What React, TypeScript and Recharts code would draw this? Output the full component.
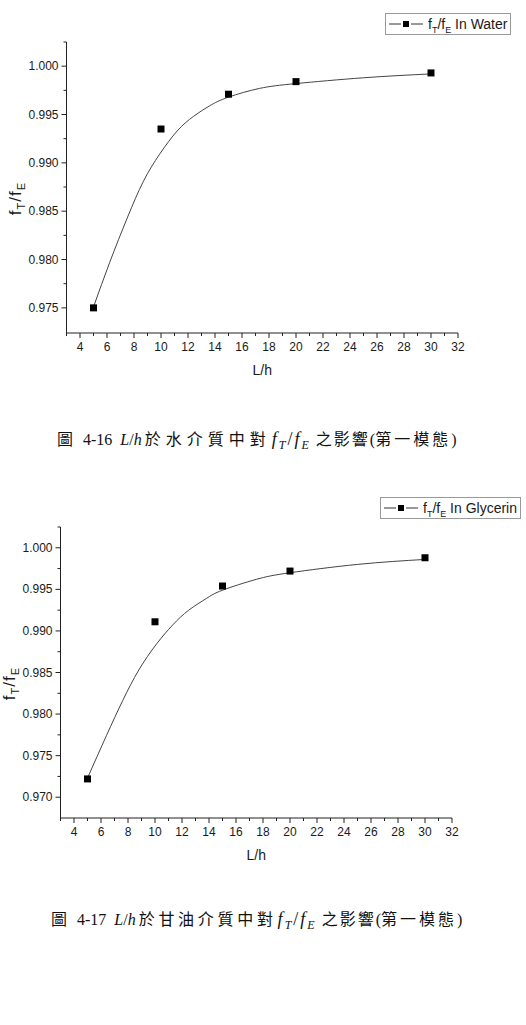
import React from 'react'
import { ComposedChart, Line, Scatter, XAxis, YAxis } from 'recharts'

// L/h values (x axis) and measured frequency ratios
const xTicks = [3, 4, 5, 6, 7, 8, 9, 10, 11, 12, 13, 14, 15, 16, 17, 18, 19, 20, 21, 22, 23, 24, 25, 26, 27, 28, 29, 30, 31, 32]

const waterX = [5, 10, 15, 20, 30]
const waterY = [0.975, 0.9935, 0.9971, 0.9984, 0.9993]
const waterFitX = [5, 6.2, 7.5, 8.7, 9.9, 11.2, 12.4, 13.6, 15, 17.3, 20, 25, 30]
const waterFitY = [0.9751, 0.9797, 0.9843, 0.9881, 0.9909, 0.9933, 0.9948, 0.9959, 0.9968, 0.9977, 0.9982, 0.9988, 0.9992]
const waterYTicks = [0.975, 0.9775, 0.98, 0.9825, 0.985, 0.9875, 0.99, 0.9925, 0.995, 0.9975, 1.0, 1.0025]

const glycerinX = [5, 10, 15, 20, 30]
const glycerinY = [0.9722, 0.9911, 0.9954, 0.9972, 0.9988]
const glycerinFitX = [5, 6.4, 7.6, 8.8, 10.1, 11.3, 12.5, 13.8, 15, 17.5, 20, 25, 30]
const glycerinFitY = [0.9723, 0.9774, 0.9816, 0.9853, 0.9884, 0.9907, 0.9925, 0.9939, 0.9949, 0.9962, 0.997, 0.998, 0.9986]
const glycerinYTicks = [0.97, 0.9725, 0.975, 0.9775, 0.98, 0.9825, 0.985, 0.9875, 0.99, 0.9925, 0.995, 0.9975, 1.0, 1.0025]

const axisColor = '#222'
const textColor = '#1a1a1a'
const sans = '"Liberation Sans", Arial, sans-serif'
const serif = '"Liberation Serif", "Times New Roman", serif'
const cjk = '"Noto Sans CJK TC", "Noto Sans CJK SC", sans-serif'

const toPoints = (xs: number[], ys: number[]) => xs.map((x, i) => ({ x, y: ys[i] }))

const isMajorY = (v: number) => Math.abs(Math.round(v * 200) - v * 200) < 1e-6

function XTick({ x, y, payload }: any) {
  const major = payload.value % 2 === 0
  return (
    <g>
      <line x1={x} x2={x} y1={y} y2={y + (major ? 5 : 3)} stroke={axisColor} />
      {major && (
        <text x={x} y={y + 18} textAnchor="middle" fontSize={12} fontFamily={sans} fill={textColor}>
          {payload.value}
        </text>
      )}
    </g>
  )
}

function YTick({ x, y, payload }: any) {
  const major = isMajorY(payload.value)
  return (
    <g>
      <line x1={x} x2={x - (major ? 5 : 3)} y1={y} y2={y} stroke={axisColor} />
      {major && (
        <text x={x - 8} y={y + 4} textAnchor="end" fontSize={12} fontFamily={sans} fill={textColor}>
          {payload.value.toFixed(3)}
        </text>
      )}
    </g>
  )
}

const squareShape = (props: any) => (
  <rect x={props.cx - 3.5} y={props.cy - 3.5} width={7} height={7} fill="#000" />
)

const xLabel = (props: any) => {
  const vb = props.viewBox
  return (
    <text x={vb.x + vb.width / 2} y={vb.y + 42} textAnchor="middle" fontSize={14} fontFamily={sans} fill={textColor}>
      L/h
    </text>
  )
}

const yLabel = (props: any) => {
  const vb = props.viewBox
  const cx = vb.x + vb.width - 52
  const cy = vb.y + vb.height / 2 + 11
  return (
    <text
      transform={`translate(${cx},${cy}) rotate(-90)`}
      x={0}
      y={6}
      textAnchor="middle"
      fontSize={17}
      letterSpacing={1}
      fontFamily={sans}
      fill={textColor}
    >
      f<tspan fontSize={11} dy={4}>T</tspan>
      <tspan dy={-4}>/f</tspan>
      <tspan fontSize={11} dy={4}>E</tspan>
    </text>
  )
}

function Legend({ left, top, name }: { left: number; top: number; name: string }) {
  return (
    <div
      style={{
        position: 'absolute',
        left,
        top,
        height: 20,
        border: '1px solid #999',
        padding: '0 3px 0 3px',
        display: 'flex',
        alignItems: 'center',
        fontFamily: sans,
        fontSize: 14,
        color: textColor,
        background: '#fff',
        whiteSpace: 'nowrap',
      }}
    >
      <svg width={36} height={10} style={{ marginRight: 3 }}>
        <line x1={0} x2={12} y1={5} y2={5} stroke="#333" />
        <rect x={14} y={2} width={6} height={6} fill="#000" />
        <line x1={22} x2={34} y1={5} y2={5} stroke="#333" />
      </svg>
      <span>
        f<span style={{ fontSize: 9, position: 'relative', top: 4 }}>T</span>/f
        <span style={{ fontSize: 9, position: 'relative', top: 4 }}>E</span> {name}
      </span>
    </div>
  )
}

function Caption({
  left,
  top,
  num,
  medium,
  spacing,
}: {
  left: number
  top: number
  num: string
  medium: string
  spacing: number
}) {
  const sub = { fontSize: 12, position: 'relative' as const, top: 4, fontStyle: 'italic' }
  return (
    <div
      style={{
        position: 'absolute',
        left,
        top,
        fontFamily: serif,
        fontSize: 16,
        color: '#111',
        whiteSpace: 'nowrap',
      }}
    >
      <span style={{ fontFamily: cjk }}>圖</span>
      <span style={{ marginLeft: 10 }}>{num}</span>
      <i style={{ marginLeft: 8 }}>L</i>/<i>h</i>
      <span style={{ fontFamily: cjk, letterSpacing: spacing, marginLeft: 3 }}>{medium}</span>
      <span style={{ fontSize: 18, letterSpacing: 2, marginLeft: 1, marginRight: 3 }}>
        <i>f</i>
        <span style={sub}>T</span>/<i>f</i>
        <span style={sub}>E</span>
      </span>
      <span style={{ fontFamily: cjk, letterSpacing: 2, marginLeft: 2 }}>之影響</span>(
      <span style={{ fontFamily: cjk, letterSpacing: 3 }}>第一模態</span>)
    </div>
  )
}

function Panel({
  top,
  left,
  right,
  yDomain,
  yTicks,
  points,
  fit,
}: {
  top: number
  left: number
  right: number
  yDomain: [number, number]
  yTicks: number[]
  points: { x: number; y: number }[]
  fit: { x: number; y: number }[]
}) {
  return (
    <div style={{ position: 'absolute', left: 0, top }}>
      <ComposedChart width={526} height={400} margin={{ top: 42, right, left, bottom: 17 }}>
        <XAxis
          type="number"
          dataKey="x"
          domain={[3, 32]}
          ticks={xTicks}
          interval={0}
          allowDataOverflow
          height={50}
          tickSize={0}
          tickMargin={0}
          tickLine={false}
          tick={<XTick />}
          stroke={axisColor}
          label={xLabel}
        />
        <YAxis
          type="number"
          dataKey="y"
          domain={yDomain}
          ticks={yTicks}
          interval={0}
          allowDataOverflow
          width={56}
          tickSize={0}
          tickMargin={0}
          tickLine={false}
          tick={<YTick />}
          stroke={axisColor}
          label={yLabel}
        />
        <Line
          data={fit}
          dataKey="y"
          type="natural"
          stroke="#444"
          strokeWidth={1}
          dot={false}
          activeDot={false}
          isAnimationActive={false}
        />
        <Scatter data={points} dataKey="y" shape={squareShape} isAnimationActive={false} />
      </ComposedChart>
    </div>
  )
}

export default function App() {
  return (
    <div style={{ position: 'absolute', left: 0, top: 0, width: 526, height: 1025, background: '#fff' }}>
      <Panel
        top={0}
        left={10.5}
        right={68}
        yDomain={[0.9724, 1.0025]}
        yTicks={waterYTicks}
        points={toPoints(waterX, waterY)}
        fit={toPoints(waterFitX, waterFitY)}
      />
      <Legend left={385} top={13} name="In Water" />
      <Caption left={57} top={426} num="4-16" medium="於水介質中對" spacing={5} />

      <Panel
        top={485}
        left={4.5}
        right={74}
        yDomain={[0.9675, 1.0025]}
        yTicks={glycerinYTicks}
        points={toPoints(glycerinX, glycerinY)}
        fit={toPoints(glycerinFitX, glycerinFitY)}
      />
      <Legend left={380} top={497} name="In Glycerin" />
      <Caption left={51} top={906} num="4-17" medium="於甘油介質中對" spacing={3.7} />
    </div>
  )
}
